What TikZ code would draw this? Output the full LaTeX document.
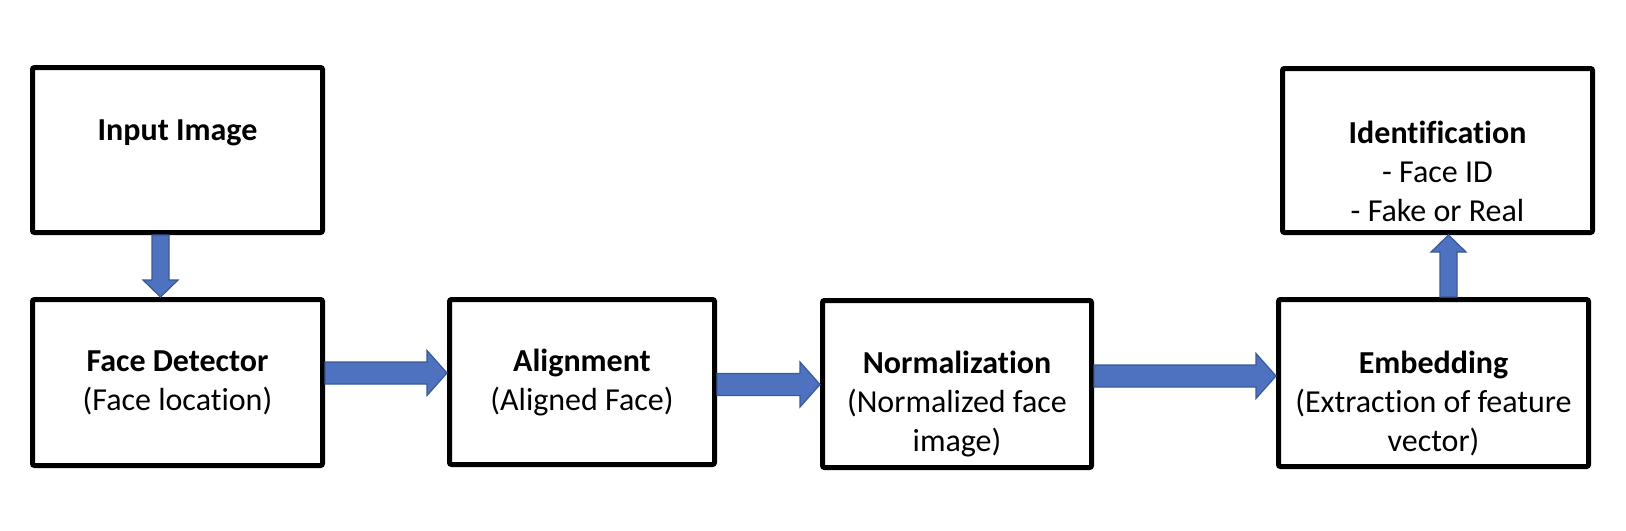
\documentclass[tikz,border=0pt]{standalone}
\usepackage{fontspec}
\setmainfont[RawFeature=-liga]{Carlito}
\usetikzlibrary{calc}
\definecolor{arrowblue}{HTML}{4E72BF}
\definecolor{arrowedge}{HTML}{3A5A96}
\tikzset{
  box/.style={draw=black, line width=2.5pt, rounded corners=1pt, fill=white, inner sep=0pt},
  boxtext/.style={align=center, font=\fontsize{16pt}{19.5pt}\selectfont, inner sep=0pt},
  blockarrow/.style={fill=arrowblue, draw=arrowedge, line width=0.6pt, line join=miter},
}
% horizontal block arrow: from node, to node, y (px)
\newcommand{\harrow}[3]{%
  \path (#1.east |- 0,#3) coordinate (hs) (#2.west |- 0,#3) coordinate (he);
  \draw[blockarrow] ($(hs)+(0,-11)$) -- ($(he)+(-20,-11)$) -- ($(he)+(-20,-22.5)$) -- (he)
    -- ($(he)+(-20,22.5)$) -- ($(he)+(-20,11)$) -- ($(hs)+(0,11)$) -- cycle;}
% vertical block arrow: from anchor, to anchor, x (px), direction (1 down, -1 up)
\newcommand{\varrow}[4]{%
  \path (#1 -| #3,0) coordinate (vs) (#2 -| #3,0) coordinate (ve);
  \draw[blockarrow] ($(vs)+(-8.5,0)$) -- ($(ve)+(-8.5,{-17*#4})$) -- ($(ve)+(-17.5,{-17*#4})$) -- (ve)
    -- ($(ve)+(17.5,{-17*#4})$) -- ($(ve)+(8.5,{-17*#4})$) -- ($(vs)+(8.5,0)$) -- cycle;}
\begin{document}
\begin{tikzpicture}[x=0.5pt, y=-0.5pt]
  \useasboundingbox[fill=white] (0,0) rectangle (1626,530);
  % boxes
  \node[box, minimum width=145pt, minimum height=82.5pt] (in) at (177.5,150) {};
  \node[box, minimum width=145pt, minimum height=83pt]   (fd) at (177.5,382.5) {};
  \node[box, minimum width=132.5pt, minimum height=82.5pt] (al) at (582,382) {};
  \node[box, minimum width=134.5pt, minimum height=83.5pt] (no) at (957,384) {};
  \node[box, minimum width=155pt, minimum height=83.5pt] (em) at (1433.5,383) {};
  \node[box, minimum width=155pt, minimum height=82pt]   (id) at (1437.5,150.5) {};
  % texts
  \node[boxtext] (tin) at (177.5,133) {\textbf{Input Image}};
  \node[boxtext] (tfd) at (177.5,383) {\textbf{Face Detector}\\(Face location)};
  \node[boxtext] (tal) at (582,383) {\textbf{Alignment}\\(Aligned Face)};
  \node[boxtext] (tno) at (957,404) {\textbf{Normalization}\\(Normalized face\\image)};
  \node[boxtext] (tem) at (1433.5,403.5) {\textbf{Embedding}\\(Extraction of feature\\vector)};
  \node[boxtext] (tid) at (1437.5,171) {\textbf{Identification}\\- Face ID\\- Fake or Real};
  % arrows
  \varrow{in.south}{fd.north}{160.5}{1}
  \harrow{fd}{al}{373}
  \harrow{al}{no}{384.5}
  \harrow{no}{em}{376}
  \varrow{em.north}{id.south}{1448.5}{-1}
\end{tikzpicture}
\end{document}
